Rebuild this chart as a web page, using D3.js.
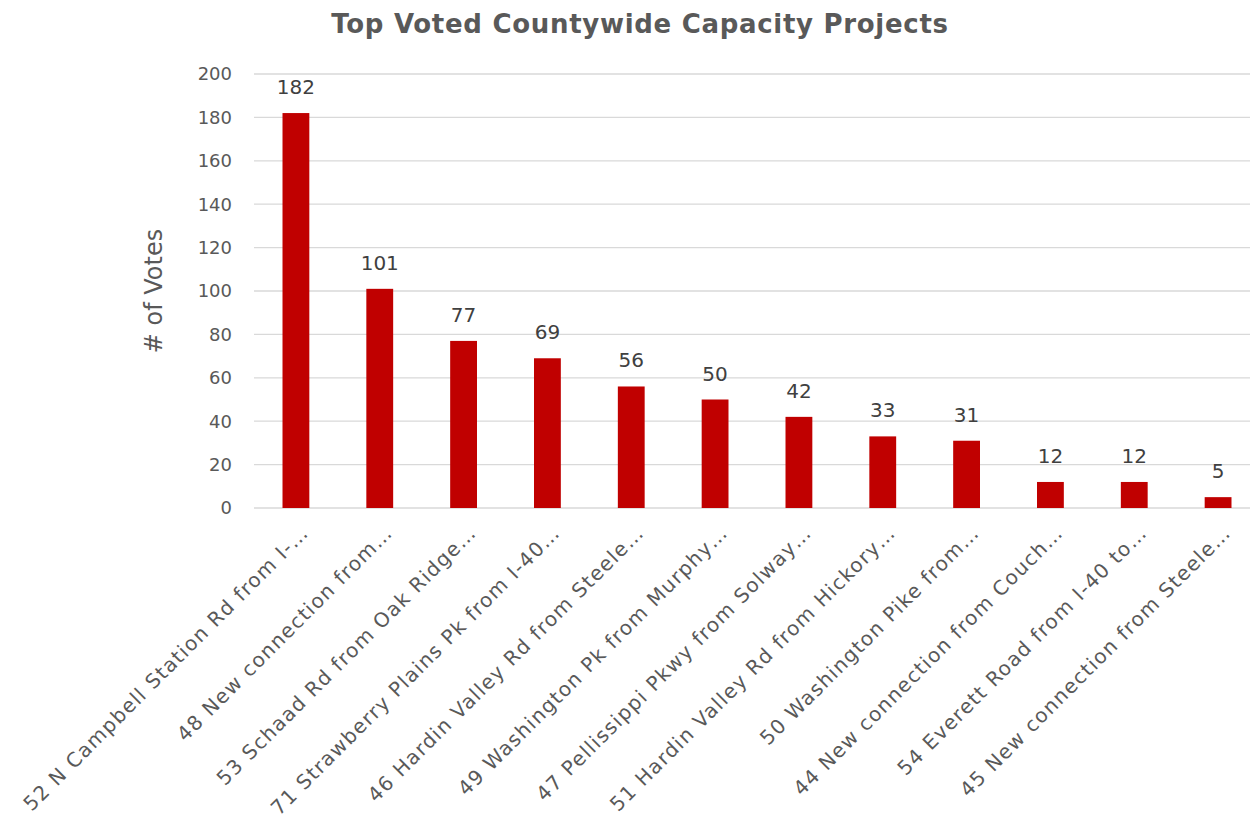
<!DOCTYPE html>
<html>
<head>
<meta charset="utf-8">
<script src="https://cdn.jsdelivr.net/npm/d3@7"></script>
<style>
  body { margin: 0; background: #fff; }
  svg { display: block; font-family: "DejaVu Sans", "Open Sans", sans-serif; }
</style>
</head>
<body>
<div id="chart"></div>
<script>
const projects = [
  '52 N Campbell Station Rd from I-…',
  '48 New connection from…',
  '53 Schaad Rd from Oak Ridge…',
  '71 Strawberry Plains Pk from I-40…',
  '46 Hardin Valley Rd from Steele…',
  '49 Washington Pk from Murphy…',
  '47 Pellissippi Pkwy from Solway…',
  '51 Hardin Valley Rd from Hickory…',
  '50 Washington Pike from…',
  '44 New connection from Couch…',
  '54 Everett Road from I-40 to…',
  '45 New connection from Steele…'
];
const votes = [182, 101, 77, 69, 56, 50, 42, 33, 31, 12, 12, 5];
const yTicks = [0, 20, 40, 60, 80, 100, 120, 140, 160, 180, 200];

const width = 1260, height = 827;
const margin = { top: 74, right: 0, bottom: 319, left: 254 };

const svg = d3.select('#chart').append('svg')
  .attr('width', width)
  .attr('height', height);

const x = d3.scaleBand()
  .domain(projects)
  .range([margin.left, width - margin.right])
  .paddingInner(0.68)
  .paddingOuter(0.34);

const y = d3.scaleLinear()
  .domain([0, 200])
  .range([height - margin.bottom, margin.top]);

// gridlines
svg.append('g')
  .selectAll('line')
  .data(yTicks)
  .join('line')
  .attr('x1', margin.left)
  .attr('x2', 1250)
  .attr('y1', d => y(d))
  .attr('y2', d => y(d))
  .attr('stroke', '#d9d9d9')
  .attr('stroke-width', 1.3);

// y tick labels
svg.append('g')
  .selectAll('text')
  .data(yTicks)
  .join('text')
  .attr('x', 232)
  .attr('y', d => y(d))
  .attr('dy', '0.36em')
  .attr('text-anchor', 'end')
  .attr('fill', '#595959')
  .style('font-size', '18px')
  .text(d => d);

// bars
svg.append('g')
  .selectAll('rect')
  .data(votes)
  .join('rect')
  .attr('x', (d, i) => x(projects[i]))
  .attr('y', d => y(d))
  .attr('width', x.bandwidth())
  .attr('height', d => y(0) - y(d))
  .attr('fill', '#c00000');

// value labels
svg.append('g')
  .selectAll('text')
  .data(votes)
  .join('text')
  .attr('x', (d, i) => x(projects[i]) + x.bandwidth() / 2)
  .attr('y', d => y(d) - 19)
  .attr('text-anchor', 'middle')
  .attr('fill', '#404040')
  .style('font-size', '20px')
  .text(d => d);

// category labels
svg.append('g')
  .selectAll('text')
  .data(projects)
  .join('text')
  .attr('transform', d => `translate(${x(d) + x.bandwidth() / 2 + 14}, ${y(0) + 26}) rotate(-45)`)
  .attr('text-anchor', 'end')
  .attr('fill', '#595959')
  .style('font-size', '20px')
  .style('letter-spacing', '1.3px')
  .text(d => d);

// axis title
svg.append('text')
  .attr('transform', `translate(162, ${y(100)}) rotate(-90)`)
  .attr('text-anchor', 'middle')
  .attr('fill', '#595959')
  .style('font-size', '24px')
  .text('# of Votes');

// chart title
svg.append('text')
  .attr('x', 640)
  .attr('y', 33)
  .attr('text-anchor', 'middle')
  .attr('fill', '#595959')
  .style('font-size', '26px')
  .style('font-weight', 'bold')
  .style('letter-spacing', '0.7px')
  .text('Top Voted Countywide Capacity Projects');
</script>
</body>
</html>
